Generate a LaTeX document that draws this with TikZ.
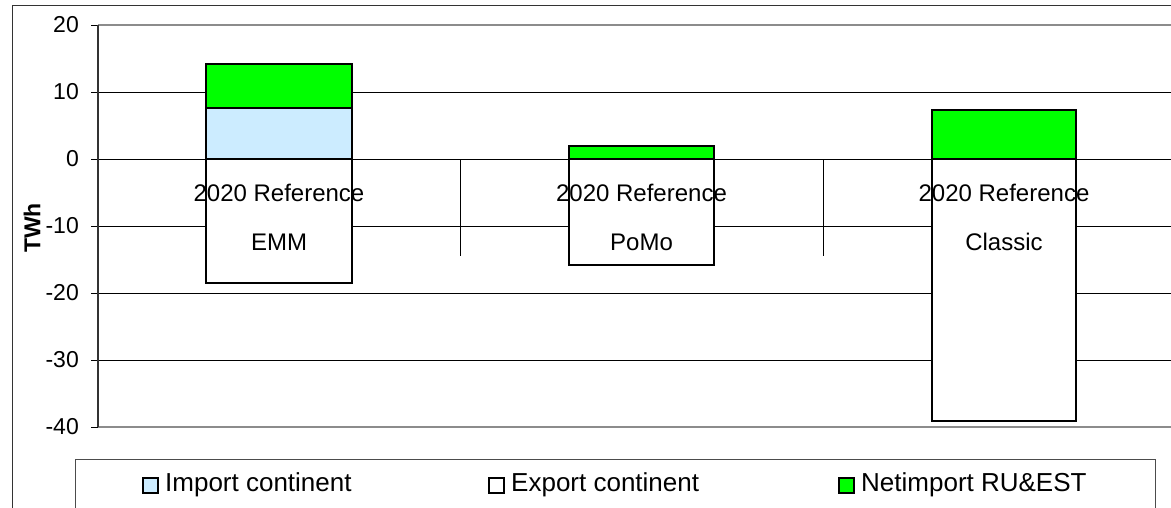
\documentclass[tikz,border=0pt]{standalone}
\usepackage{fontspec}
\setmainfont{Liberation Sans}
\definecolor{netgreen}{RGB}{0,255,0}
\definecolor{impblue}{RGB}{204,236,255}
\definecolor{axisgray}{RGB}{140,140,140}
\begin{document}
\begin{tikzpicture}[x=1pt,y=-1pt,
  grid/.style={black,line width=0.9pt},
  bar/.style={draw=black,line width=2pt},
  ticklab/.style={anchor=east,inner sep=0pt,font=\fontsize{23}{27}\selectfont},
  catlab/.style={inner sep=0pt,font=\fontsize{24}{28}\selectfont},
  legtext/.style={anchor=west,inner sep=0pt,font=\fontsize{26}{30}\selectfont},
  legmark/.style={draw=black,line width=2pt,minimum width=15pt,minimum height=15pt,inner sep=0pt}]
\useasboundingbox (0,0) rectangle (1171,507);
\clip (0,0) rectangle (1171,507);
\fill[white] (0,0) rectangle (1171,507);
% outer frame
\draw[line width=1pt,black!80] (12,520) -- (12,5) -- (1180,5);
% gridlines
\foreach \y in {92,159,226,293,360} {\draw[grid] (91,\y) -- (1180,\y);}
\draw[axisgray,line width=2pt] (98,25) -- (1180,25);
\draw[axisgray,line width=2.5pt] (98,427) -- (1180,427);
\draw[black] (91,25) -- (98,25);
\draw[black] (91,427) -- (98,427);
\draw[black!80,line width=1.5pt] (98,25) -- (98,427);
% category ticks
\draw[black,line width=0.9pt] (460.5,159) -- (460.5,256);
\draw[black,line width=0.9pt] (823,159) -- (823,256);
% y tick labels
\node[ticklab] (t20) at (79,25) {20};
\node[ticklab] (t10) at (79,92) {10};
\node[ticklab] (t0) at (79,159) {0};
\node[ticklab] (tm10) at (79,226) {-10};
\node[ticklab] (tm20) at (79,293) {-20};
\node[ticklab] (tm30) at (79,360) {-30};
\node[ticklab] (tm40) at (79,427) {-40};
\node[rotate=90,inner sep=0pt,font=\fontsize{23}{27}\selectfont\bfseries] (twh) at (32,228) {TWh};
% bars EMM
\filldraw[bar,fill=white] (206,159) rectangle (352,282.5);
\filldraw[bar,fill=impblue] (206,107.5) rectangle (352,159);
\filldraw[bar,fill=netgreen] (206,63.5) rectangle (352,107.5);
% bars PoMo
\filldraw[bar,fill=white] (569,159) rectangle (714,265);
\filldraw[bar,fill=netgreen] (569,145.5) rectangle (714,159);
% bars Classic
\filldraw[bar,fill=white] (932,159) rectangle (1076,420.5);
\filldraw[bar,fill=netgreen] (932,109.5) rectangle (1076,159);
% category labels
\node[catlab] (r1) at (279,193) {2020 Reference};
\node[catlab] (c1) at (279,242) {EMM};
\node[catlab] (r2) at (641.5,193) {2020 Reference};
\node[catlab] (c2) at (641.5,242) {PoMo};
\node[catlab] (r3) at (1004,193) {2020 Reference};
\node[catlab] (c3) at (1004,242) {Classic};
% legend
\draw[black!70,line width=1pt] (75,520) -- (75,459) -- (1155,459) -- (1155,520);
\node[legmark,fill=impblue] (m1) at (150,485) {};
\node[legtext] (l1) at (165,485) {Import continent};
\node[legmark,fill=white] (m2) at (496,485) {};
\node[legtext] (l2) at (511,485) {Export continent};
\node[legmark,fill=netgreen] (m3) at (846,485) {};
\node[legtext] (l3) at (861,485) {Netimport RU\&EST};
\end{tikzpicture}
\end{document}
